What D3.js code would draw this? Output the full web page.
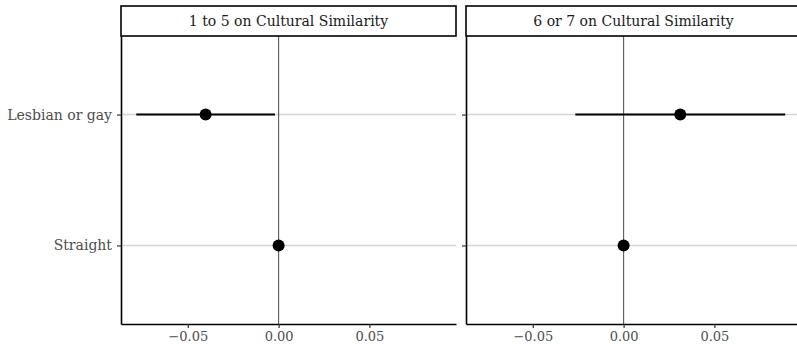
<!DOCTYPE html>
<html>
<head>
<meta charset="utf-8">
<script src="https://cdn.jsdelivr.net/npm/d3@7"></script>
<style>
  body { margin: 0; background: #fff; }
  svg text { font-family: "DejaVu Serif", "Liberation Serif", serif; }
</style>
</head>
<body>
<div id="chart"></div>
<script>
// facets, rows, estimates and intervals
var facets = ["1 to 5 on Cultural Similarity", "6 or 7 on Cultural Similarity"];
var groups = ["Lesbian or gay", "Straight"];
var estimates = [[-0.0402, 0], [0.0312, 0]];
var lower = [[-0.0784, null], [-0.0266, null]];
var upper = [[-0.002, null], [0.089, null]];
var xTicks = [-0.05, 0, 0.05];

var w = 797, h = 352;
var panelW = 335, panelTop = 36, panelBottom = 324;
var panelLeft = [121, 466];
var stripTop = 6;

var svg = d3.select("#chart").append("svg")
    .attr("width", w)
    .attr("height", h);

var yScale = d3.scalePoint()
    .domain(groups)
    .range([panelTop, panelBottom])
    .padding(0.6);

facets.forEach(function(f, i) {
    var x0 = panelLeft[i];
    var xScale = d3.scaleLinear()
        .domain([-0.0868, 0.0977])
        .range([x0, x0 + panelW]);

    var g = svg.append("g");

    // horizontal grid
    g.selectAll(".grid")
        .data(groups)
        .join("line")
        .attr("x1", x0).attr("x2", x0 + panelW)
        .attr("y1", function(d) { return yScale(d); })
        .attr("y2", function(d) { return yScale(d); })
        .attr("stroke", "#d4d4d4")
        .attr("stroke-width", 1.6);

    // zero reference line
    g.append("line")
        .attr("x1", xScale(0)).attr("x2", xScale(0))
        .attr("y1", panelTop).attr("y2", panelBottom)
        .attr("stroke", "#5a5a5a")
        .attr("stroke-width", 1.1);

    var rows = groups.map(function(gr, j) {
        return { group: gr, est: estimates[i][j], lo: lower[i][j], hi: upper[i][j] };
    });

    g.selectAll(".ci")
        .data(rows.filter(function(d) { return d.lo !== null; }))
        .join("line")
        .attr("x1", function(d) { return xScale(d.lo); })
        .attr("x2", function(d) { return xScale(d.hi); })
        .attr("y1", function(d) { return yScale(d.group); })
        .attr("y2", function(d) { return yScale(d.group); })
        .attr("stroke", "#000")
        .attr("stroke-width", 2);

    g.selectAll(".pt")
        .data(rows)
        .join("circle")
        .attr("cx", function(d) { return xScale(d.est); })
        .attr("cy", function(d) { return yScale(d.group); })
        .attr("r", 6)
        .attr("fill", "#000");

    // x axis
    var xAxis = d3.axisBottom(xScale)
        .tickValues(xTicks)
        .tickSize(4)
        .tickSizeOuter(0)
        .tickFormat(d3.format(".2f"));
    var ax = g.append("g")
        .attr("transform", "translate(0," + panelBottom + ")")
        .call(xAxis);
    ax.select(".domain").attr("stroke", "#000").attr("stroke-width", 1.6);
    ax.selectAll(".tick line").attr("stroke", "#333").attr("stroke-width", 1.2);
    ax.selectAll(".tick text")
        .attr("fill", "#4d4d4d")
        .attr("font-size", 13)
        .attr("y", 5)
        .attr("dy", "0.95em")
        .text(function(d) { return d3.format(".2f")(d).replace("-", "\u2212"); });

    // y axis
    var yAxis = d3.axisLeft(yScale).tickSize(4).tickPadding(5).tickSizeOuter(0);
    var ay = g.append("g")
        .attr("transform", "translate(" + x0 + ",0)")
        .call(yAxis);
    ay.select(".domain").attr("stroke", "#000").attr("stroke-width", 1.6);
    ay.selectAll(".tick line").attr("stroke", "#333").attr("stroke-width", 1.2);
    ay.selectAll(".tick text")
        .attr("fill", "#4d4d4d")
        .attr("font-size", 14);
    if (i > 0) ay.selectAll(".tick text").remove();

    // strip
    g.append("rect")
        .attr("x", x0).attr("y", stripTop)
        .attr("width", panelW).attr("height", panelTop - stripTop)
        .attr("fill", "#fff")
        .attr("stroke", "#000")
        .attr("stroke-width", 1.6);
    g.append("text")
        .attr("x", x0 + panelW / 2)
        .attr("y", (stripTop + panelTop) / 2)
        .attr("dy", "0.35em")
        .attr("text-anchor", "middle")
        .attr("fill", "#1a1a1a")
        .attr("font-size", 14)
        .text(f);
});
</script>
</body>
</html>
